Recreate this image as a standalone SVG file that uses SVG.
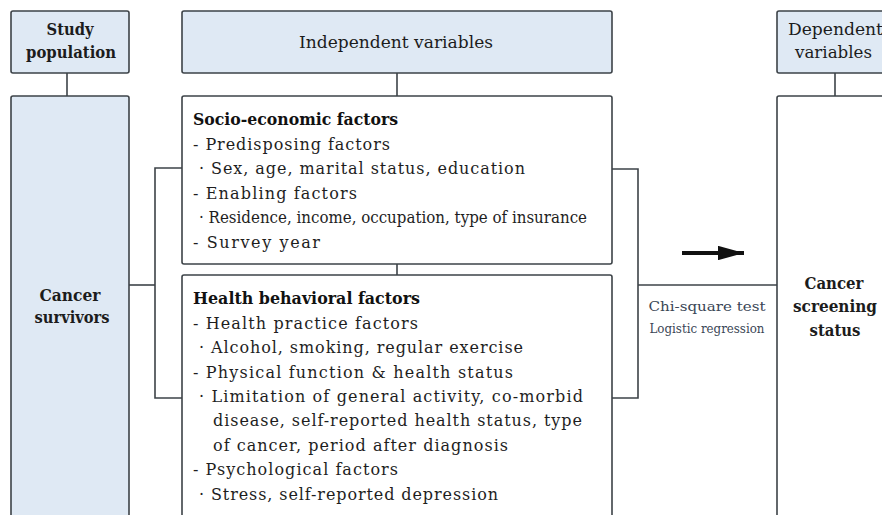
<svg xmlns="http://www.w3.org/2000/svg" width="882" height="515" viewBox="0 0 882 515">
  <style>
    .head { fill: #dfe9f4; stroke: #3d4348; stroke-width: 1.6; }
    .box { fill: #ffffff; stroke: #3d4348; stroke-width: 1.6; }
    .wire { fill: none; stroke: #3d4348; stroke-width: 1.6; }
    .title { font-family: "DejaVu Serif Condensed", "DejaVu Serif", serif; font-size: 17px; font-weight: bold; text-anchor: middle; fill: #1c1c1c; }
    .title-r { font-family: "DejaVu Serif Condensed", "DejaVu Serif", serif; font-size: 17px; font-weight: normal; fill: #1c1c1c; }
    .item { font-family: "DejaVu Serif", serif; font-size: 16px; fill: #1e1e1e; }
    .item-b { font-family: "DejaVu Serif", serif; font-size: 16px; font-weight: bold; fill: #111111; }
    .stat { font-family: "DejaVu Serif", serif; font-size: 13px; fill: #3a4656; text-anchor: middle; }
  </style>
  <defs>
    <marker id="arrowhead" viewBox="0 0 10 10" refX="10" refY="5" markerWidth="6.5" markerHeight="3.6" orient="auto" markerUnits="strokeWidth" preserveAspectRatio="none">
      <path d="M0,0 L10,5 L0,10 Z" fill="#111111"/>
    </marker>
  </defs>

  <rect x="0" y="0" width="882" height="515" fill="#ffffff"/>

  <!-- connectors -->
  <g id="connectors">
    <line class="wire" x1="67" y1="73" x2="67" y2="96"/>
    <line class="wire" x1="397" y1="73" x2="397" y2="96"/>
    <line class="wire" x1="835" y1="73" x2="835" y2="96"/>
    <line class="wire" x1="397" y1="264" x2="397" y2="275"/>
    <!-- left bracket -->
    <line class="wire" x1="129" y1="285" x2="155" y2="285"/>
    <polyline class="wire" points="182,168 155,168 155,398 182,398"/>
    <!-- right bracket -->
    <polyline class="wire" points="612,169 638,169 638,398 612,398"/>
    <line class="wire" x1="638" y1="285" x2="777" y2="285"/>
    <!-- direction arrow -->
    <line x1="682" y1="253" x2="744" y2="253" stroke="#111111" stroke-width="4" marker-end="url(#arrowhead)"/>
  </g>

  <!-- column headers -->
  <g id="study-population">
    <rect class="head" x="11" y="11" width="118" height="62" rx="2"/>
    <text class="title" x="70" y="35" textLength="47" lengthAdjust="spacingAndGlyphs">Study</text>
    <text class="title" x="71" y="58" textLength="90" lengthAdjust="spacingAndGlyphs">population</text>
  </g>
  <g id="independent-variables">
    <rect class="head" x="182" y="11" width="430" height="62" rx="2"/>
    <text class="title-r" x="299" y="48" textLength="194" lengthAdjust="spacingAndGlyphs">Independent variables</text>
  </g>
  <g id="dependent-variables">
    <rect class="head" x="777" y="11" width="130" height="62" rx="2"/>
    <text class="title-r" x="788" y="35" textLength="95" lengthAdjust="spacingAndGlyphs">Dependent</text>
    <text class="title-r" x="795" y="58" textLength="77" lengthAdjust="spacingAndGlyphs">variables</text>
  </g>

  <!-- study population body -->
  <g id="cancer-survivors">
    <rect class="head" x="11" y="96" width="118" height="440" rx="2"/>
    <text class="title" x="70" y="301" textLength="61" lengthAdjust="spacingAndGlyphs">Cancer</text>
    <text class="title" x="72" y="323" textLength="75" lengthAdjust="spacingAndGlyphs">survivors</text>
  </g>

  <!-- independent variable groups -->
  <g id="socio-economic">
    <rect class="box" x="182" y="96" width="430" height="168" rx="2"/>
    <text class="item-b" x="193" y="125" textLength="205" lengthAdjust="spacingAndGlyphs">Socio-economic factors</text>
    <text class="item" x="193" y="149.5" textLength="197" lengthAdjust="spacing">- Predisposing factors</text>
    <text class="item" x="199" y="174" textLength="326" lengthAdjust="spacing">· Sex, age, marital status, education</text>
    <text class="item" x="193" y="198.5" textLength="164" lengthAdjust="spacing">- Enabling factors</text>
    <text class="item" x="199" y="223" textLength="388" lengthAdjust="spacingAndGlyphs">· Residence, income, occupation, type of insurance</text>
    <text class="item" x="193" y="247.5" textLength="127" lengthAdjust="spacing">- Survey year</text>
  </g>
  <g id="health-behavioral">
    <rect class="box" x="182" y="275" width="430" height="260" rx="2"/>
    <text class="item-b" x="193" y="304" textLength="227" lengthAdjust="spacingAndGlyphs">Health behavioral factors</text>
    <text class="item" x="193" y="328.5" textLength="225" lengthAdjust="spacing">- Health practice factors</text>
    <text class="item" x="199" y="353" textLength="324" lengthAdjust="spacing">· Alcohol, smoking, regular exercise</text>
    <text class="item" x="193" y="377.5" textLength="320" lengthAdjust="spacing">- Physical function &amp; health status</text>
    <text class="item" x="199" y="402" textLength="384" lengthAdjust="spacing">· Limitation of general activity, co-morbid</text>
    <text class="item" x="213" y="426" textLength="369" lengthAdjust="spacing">disease, self-reported health status, type</text>
    <text class="item" x="213" y="450.5" textLength="295" lengthAdjust="spacing">of cancer, period after diagnosis</text>
    <text class="item" x="193" y="475" textLength="205" lengthAdjust="spacing">- Psychological factors</text>
    <text class="item" x="199" y="499.5" textLength="299" lengthAdjust="spacing">· Stress, self-reported depression</text>
  </g>

  <!-- analysis methods -->
  <g id="analysis">
    <text class="stat" x="707" y="311" textLength="117" lengthAdjust="spacingAndGlyphs">Chi-square test</text>
    <text class="stat" x="707" y="333" textLength="115" lengthAdjust="spacingAndGlyphs">Logistic regression</text>
  </g>

  <!-- dependent variable body -->
  <g id="cancer-screening">
    <rect class="box" x="777" y="96" width="130" height="440" rx="2"/>
    <text class="title" x="834" y="289" textLength="59" lengthAdjust="spacingAndGlyphs">Cancer</text>
    <text class="title" x="835" y="312" textLength="84" lengthAdjust="spacingAndGlyphs">screening</text>
    <text class="title" x="835" y="336" textLength="51" lengthAdjust="spacingAndGlyphs">status</text>
  </g>
</svg>
